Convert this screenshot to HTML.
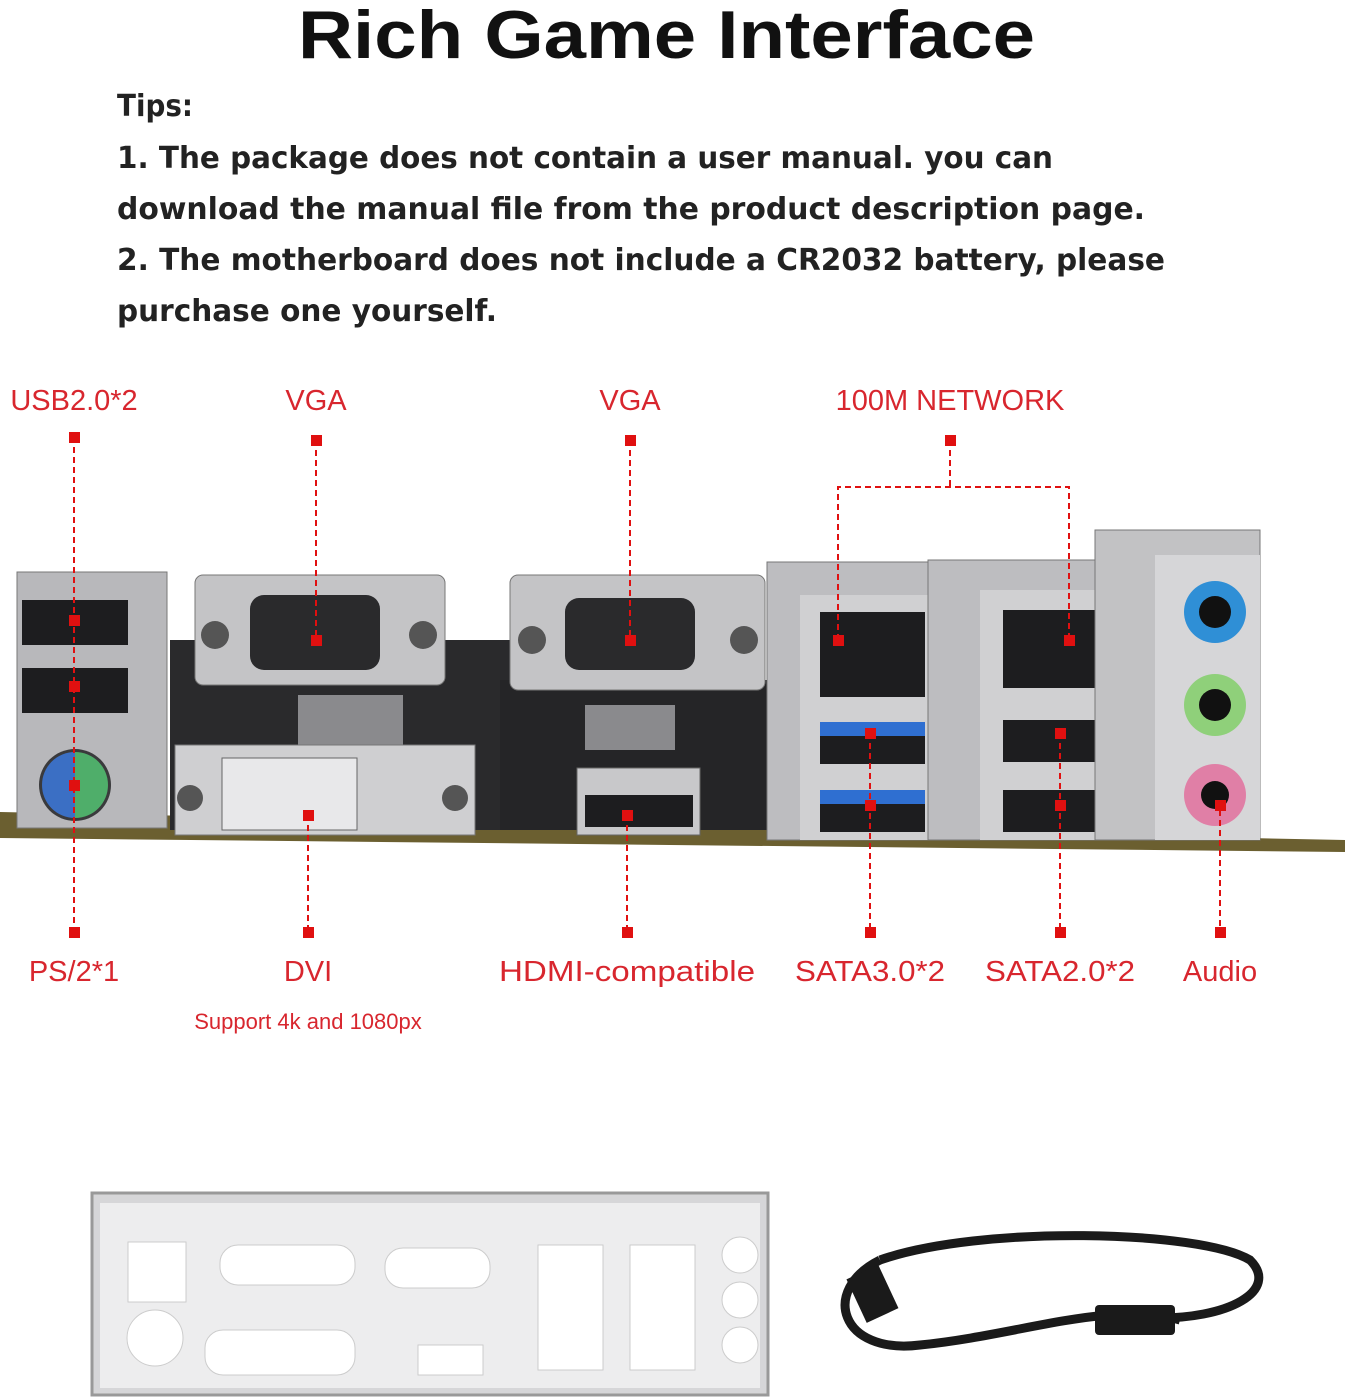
<!DOCTYPE html>
<html><head><meta charset="utf-8"><style>
html,body{margin:0;padding:0;background:#fff;width:1345px;height:1400px;overflow:hidden}
svg{display:block}
</style></head><body>
<svg width="1345" height="1400" viewBox="0 0 1345 1400" xmlns="http://www.w3.org/2000/svg">
<text x="298" y="58" textLength="737" lengthAdjust="spacingAndGlyphs" font-family="Liberation Sans, sans-serif" font-weight="bold" font-size="68" fill="#111">Rich Game Interface</text>
<g font-family="DejaVu Sans, sans-serif" font-size="30" fill="#222" font-weight="bold">
<text x="117" y="116" textLength="76" lengthAdjust="spacingAndGlyphs">Tips:</text>
<text x="117" y="168" textLength="936" lengthAdjust="spacingAndGlyphs">1. The package does not contain a user manual. you can</text>
<text x="117" y="219" textLength="1028" lengthAdjust="spacingAndGlyphs">download the manual file from the product description page.</text>
<text x="117" y="270" textLength="1048" lengthAdjust="spacingAndGlyphs">2. The motherboard does not include a CR2032 battery, please</text>
<text x="117" y="321" textLength="380" lengthAdjust="spacingAndGlyphs">purchase one yourself.</text>
</g>
<!-- board -->
<polygon points="0,812 1345,840 1345,852 0,838" fill="#6b5f30"/>
<rect x="170" y="640" width="345" height="190" fill="#2a2a2c"/>
<rect x="500" y="680" width="280" height="150" fill="#252527"/>
<!-- USB block -->
<rect x="17" y="572" width="150" height="256" fill="#b8b8bb" stroke="#777"/>
<rect x="22" y="600" width="106" height="45" fill="#1d1d1f"/>
<rect x="22" y="668" width="106" height="45" fill="#1d1d1f"/>
<circle cx="75" cy="785" r="36" fill="#3a3a3c"/>
<path d="M75,752 a33,33 0 0 0 0,66z" fill="#3b6fc4"/><path d="M75,752 a33,33 0 0 1 0,66z" fill="#4fae6a"/>
<!-- VGA -->
<rect x="195" y="575" width="250" height="110" rx="8" fill="#c4c4c6" stroke="#777"/>
<rect x="250" y="595" width="130" height="75" rx="14" fill="#2a2a2c"/>
<circle cx="215" cy="635" r="14" fill="#555"/><circle cx="423" cy="635" r="14" fill="#555"/>
<rect x="298" y="695" width="105" height="50" fill="#8a8a8d"/>
<!-- DVI -->
<rect x="175" y="745" width="300" height="90" fill="#cfcfd1" stroke="#777"/>
<rect x="222" y="758" width="135" height="72" fill="#e8e8ea" stroke="#666"/>
<circle cx="190" cy="798" r="13" fill="#555"/><circle cx="455" cy="798" r="13" fill="#555"/>
<!-- serial -->
<rect x="510" y="575" width="255" height="115" rx="8" fill="#c4c4c6" stroke="#777"/>
<rect x="565" y="598" width="130" height="72" rx="14" fill="#2a2a2c"/>
<circle cx="532" cy="640" r="14" fill="#555"/><circle cx="744" cy="640" r="14" fill="#555"/>
<rect x="585" y="705" width="90" height="45" fill="#8a8a8d"/>
<rect x="577" y="768" width="123" height="67" fill="#c8c8ca" stroke="#666"/>
<rect x="585" y="795" width="108" height="32" fill="#1d1d1f"/>
<!-- LAN1 -->
<rect x="767" y="562" width="178" height="278" fill="#bdbdc0" stroke="#777"/>
<rect x="800" y="595" width="145" height="245" fill="#d0d0d2"/>
<rect x="820" y="612" width="105" height="85" fill="#1d1d1f"/>
<rect x="820" y="722" width="105" height="42" fill="#1d1d1f"/><rect x="820" y="722" width="105" height="14" fill="#2f6fd1"/>
<rect x="820" y="790" width="105" height="42" fill="#1d1d1f"/><rect x="820" y="790" width="105" height="14" fill="#2f6fd1"/>
<!-- LAN2 -->
<rect x="928" y="560" width="209" height="280" fill="#bdbdc0" stroke="#777"/>
<rect x="980" y="590" width="155" height="250" fill="#d0d0d2"/>
<rect x="1003" y="610" width="110" height="78" fill="#1d1d1f"/>
<rect x="1003" y="720" width="110" height="42" fill="#1d1d1f"/>
<rect x="1003" y="790" width="110" height="42" fill="#1d1d1f"/>
<!-- audio -->
<rect x="1095" y="530" width="165" height="310" fill="#c2c2c4" stroke="#777"/>
<rect x="1155" y="555" width="105" height="285" fill="#d6d6d8"/>
<circle cx="1215" cy="612" r="31" fill="#2f8fd6"/><circle cx="1215" cy="612" r="16" fill="#111"/>
<circle cx="1215" cy="705" r="31" fill="#8fd07a"/><circle cx="1215" cy="705" r="16" fill="#111"/>
<circle cx="1215" cy="795" r="31" fill="#e07fa6"/><circle cx="1215" cy="795" r="14" fill="#111"/>
<!-- connectors -->
<g stroke="#e01010" stroke-width="2" stroke-dasharray="6,4" fill="none">
<line x1="74" y1="437" x2="74" y2="932"/>
<line x1="316" y1="440" x2="316" y2="640"/>
<line x1="630" y1="440" x2="630" y2="640"/>
<line x1="950" y1="440" x2="950" y2="487"/>
<polyline points="838,640 838,487 1069,487 1069,640"/>
<line x1="308" y1="815" x2="308" y2="932"/>
<line x1="627" y1="815" x2="627" y2="932"/>
<line x1="870" y1="733" x2="870" y2="932"/>
<line x1="1060" y1="733" x2="1060" y2="932"/>
<line x1="1220" y1="800" x2="1220" y2="932"/>
</g>
<g fill="#e01010">
<rect x="69" y="432" width="11" height="11"/><rect x="69" y="615" width="11" height="11"/><rect x="69" y="681" width="11" height="11"/><rect x="69" y="780" width="11" height="11"/><rect x="69" y="927" width="11" height="11"/>
<rect x="311" y="435" width="11" height="11"/><rect x="311" y="635" width="11" height="11"/>
<rect x="625" y="435" width="11" height="11"/><rect x="625" y="635" width="11" height="11"/>
<rect x="945" y="435" width="11" height="11"/><rect x="833" y="635" width="11" height="11"/><rect x="1064" y="635" width="11" height="11"/>
<rect x="303" y="810" width="11" height="11"/><rect x="303" y="927" width="11" height="11"/>
<rect x="622" y="810" width="11" height="11"/><rect x="622" y="927" width="11" height="11"/>
<rect x="865" y="728" width="11" height="11"/><rect x="865" y="800" width="11" height="11"/><rect x="865" y="927" width="11" height="11"/>
<rect x="1055" y="728" width="11" height="11"/><rect x="1055" y="800" width="11" height="11"/><rect x="1055" y="927" width="11" height="11"/>
<rect x="1215" y="800" width="11" height="11"/><rect x="1215" y="927" width="11" height="11"/>
</g>
<g font-family="Liberation Sans, sans-serif" font-size="29" fill="#d8262e" text-anchor="middle">
<text x="74" y="410">USB2.0*2</text>
<text x="316" y="410">VGA</text>
<text x="630" y="410">VGA</text>
<text x="950" y="410">100M NETWORK</text>
<text x="74" y="981">PS/2*1</text>
<text x="308" y="981">DVI</text>
<text x="627" y="981" textLength="256" lengthAdjust="spacingAndGlyphs">HDMI-compatible</text>
<text x="870" y="981" textLength="150" lengthAdjust="spacingAndGlyphs">SATA3.0*2</text>
<text x="1060" y="981" textLength="150" lengthAdjust="spacingAndGlyphs">SATA2.0*2</text>
<text x="1220" y="981">Audio</text>
<text x="308" y="1029" font-size="22">Support 4k and 1080px</text>
</g>
<!-- IO shield -->
<rect x="92" y="1193" width="676" height="202" fill="#d6d6d8" stroke="#999" stroke-width="3"/>
<rect x="100" y="1203" width="660" height="185" fill="#ededee"/>
<g fill="#fff" stroke="#ccc">
<rect x="128" y="1242" width="58" height="60"/><circle cx="155" cy="1338" r="28"/>
<rect x="220" y="1245" width="135" height="40" rx="18"/><rect x="385" y="1248" width="105" height="40" rx="18"/>
<rect x="205" y="1330" width="150" height="45" rx="18"/><rect x="418" y="1345" width="65" height="30"/>
<rect x="538" y="1245" width="65" height="125"/><rect x="630" y="1245" width="65" height="125"/>
<circle cx="740" cy="1255" r="18"/><circle cx="740" cy="1300" r="18"/><circle cx="740" cy="1345" r="18"/>
</g>
<!-- cable -->
<path d="M880,1260 C820,1290 840,1355 920,1345 C1020,1335 1110,1300 1180,1320" stroke="#1a1a1a" stroke-width="9" fill="none"/>
<path d="M880,1260 C980,1225 1200,1230 1250,1260 C1280,1290 1230,1320 1150,1318" stroke="#1a1a1a" stroke-width="9" fill="none"/>
<rect x="855" y="1270" width="35" height="48" fill="#1a1a1a" transform="rotate(-25 872 1294)"/>
<rect x="1095" y="1305" width="80" height="30" rx="4" fill="#1a1a1a"/>
</svg>
</body></html>
